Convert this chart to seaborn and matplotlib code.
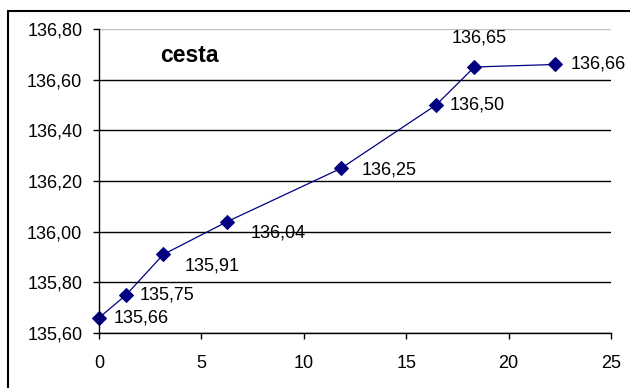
import matplotlib
matplotlib.use("Agg")
import matplotlib.pyplot as plt
import seaborn as sns
import pandas as pd
from matplotlib.patches import Rectangle
from matplotlib.ticker import FuncFormatter

# Measured stations along the road and their elevations
distance = [0, 1.32, 3.14, 6.27, 11.82, 16.46, 18.33, 22.28]
elevation = [135.66, 135.75, 135.91, 136.04, 136.25, 136.50, 136.65, 136.66]
title_text = "cesta"

# Label offsets (pixels, x right / y up) for each point label
label_offsets = [(15, 0), (14, 0), (21, -12), (23, -11), (21, -2), (14, 0), (5, 29), (15, 0)]

df = pd.DataFrame({"distance": distance, "elevation": elevation})

sns.set_theme(style="white")
plt.rcParams["font.family"] = ["Liberation Sans", "DejaVu Sans"]

W, H, DPI = 630, 388, 100
fig = plt.figure(figsize=(W / DPI, H / DPI), dpi=DPI)
ax = fig.add_axes([99 / W, 1 - 333 / H, (611 - 99) / W, (333 - 29) / H])

sns.lineplot(data=df, x="distance", y="elevation", ax=ax, color="#000080",
             linewidth=0.9, marker="D", markersize=7.5,
             markerfacecolor="#000080", markeredgecolor="#000080", clip_on=False)

ax.set_xlim(0, 25)
ax.set_ylim(135.6, 136.8)
ax.set_xticks([0, 5, 10, 15, 20, 25])
ax.set_yticks([135.6, 135.8, 136.0, 136.2, 136.4, 136.6, 136.8])
ax.yaxis.set_major_formatter(FuncFormatter(lambda v, p: f"{v:.2f}".replace(".", ",")))
ax.set_xlabel("")
ax.set_ylabel("")

ax.tick_params(axis="both", which="major", direction="out", length=4, width=1,
               color="black", labelsize=13, labelcolor="black")
ax.tick_params(axis="x", pad=12)
ax.tick_params(axis="y", pad=8)
ax.tick_params(bottom=True, left=True)

ax.grid(axis="y", color="black", linewidth=1)
ax.grid(axis="x", visible=False)
ylines = ax.yaxis.get_gridlines()
ylines[-1].set_color("#c0c0c0")

for side in ["left", "bottom"]:
    ax.spines[side].set_color("black")
    ax.spines[side].set_linewidth(1)
ax.spines["right"].set_visible(False)
ax.spines["top"].set_visible(False)

for x, y, (dx, dy) in zip(distance, elevation, label_offsets):
    ax.annotate(f"{y:.2f}".replace(".", ","), (x, y),
                xytext=(dx * 72 / DPI, dy * 72 / DPI), textcoords="offset points",
                ha="center" if dy > 20 else "left", va="center",
                fontsize=13, color="black")

ax.text(160 / W, 1 - 62 / H, title_text, transform=fig.transFigure,
        fontsize=16.5, fontweight="bold", ha="left", va="baseline", color="black")

# Chart frame
fig.patches.append(Rectangle((8 / W, -0.1), 1.2, 1 - 11 / H + 0.1,
                             transform=fig.transFigure, fill=False,
                             edgecolor="black", linewidth=1.5))

fig.savefig("out.png", dpi=DPI, facecolor="white")
